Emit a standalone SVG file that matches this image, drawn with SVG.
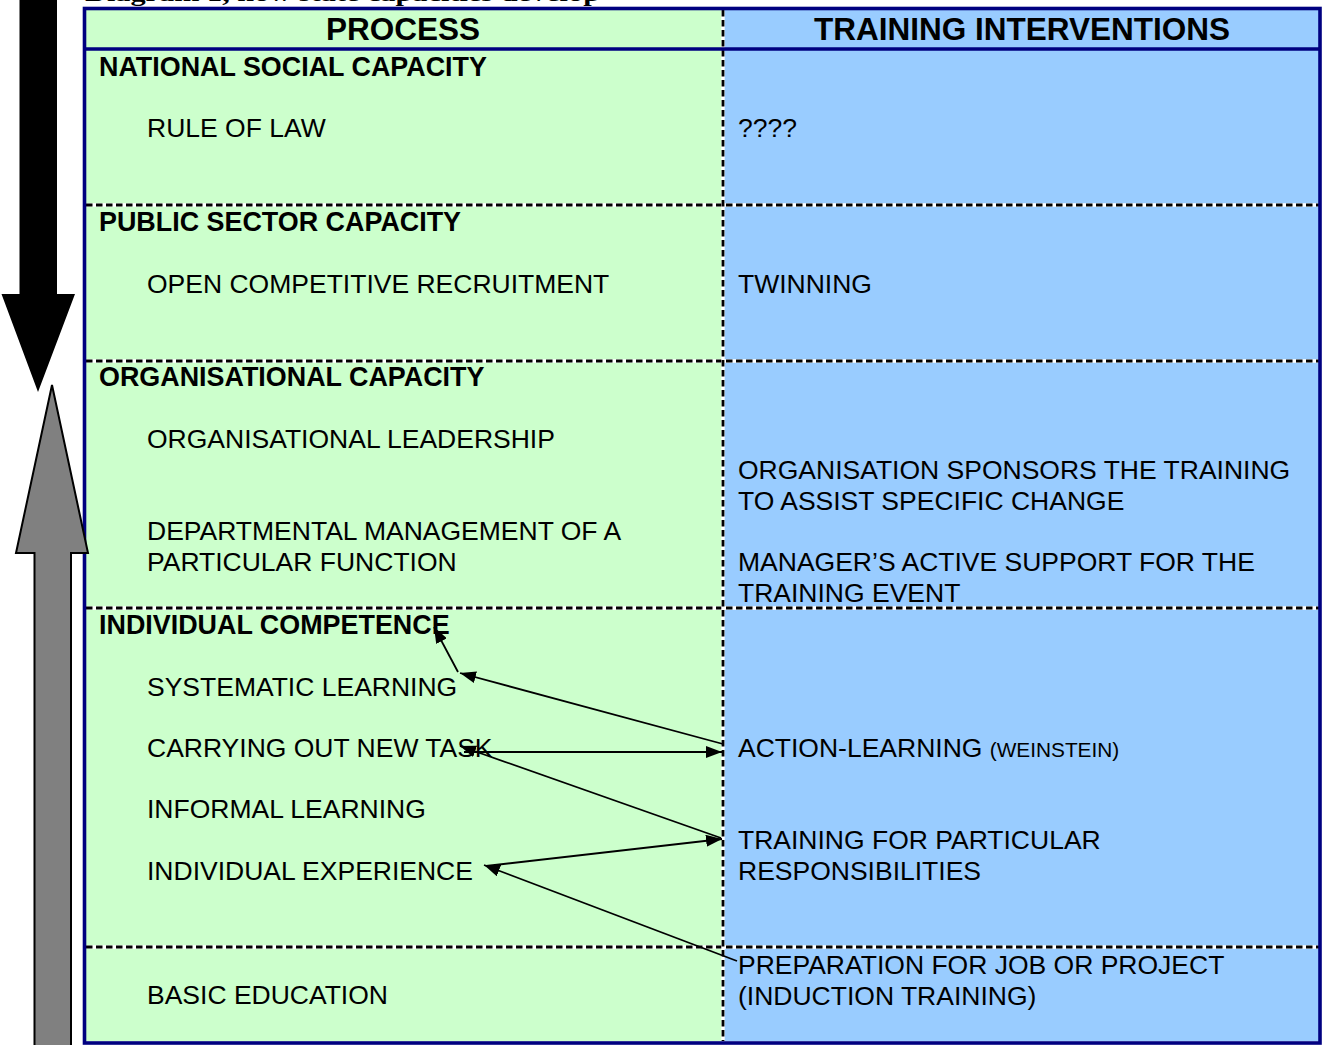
<svg xmlns="http://www.w3.org/2000/svg" width="1323" height="1045" viewBox="0 0 1323 1045">
  <style>
    .t { font-family: "Liberation Sans", Arial, sans-serif; font-size: 26.5px; fill: #000; }
    .b { font-weight: bold; font-size: 26.9px; }
    .hd { font-family: "Liberation Sans", Arial, sans-serif; font-size: 31.5px; font-weight: bold; text-anchor: middle; }
    .cap { font-family: "Liberation Serif", "Times New Roman", serif; font-size: 24px; font-weight: bold; }
    .divw { stroke: #fff; stroke-width: 3.4; fill: none; }
    .divb { stroke: #000; stroke-width: 2.8; stroke-dasharray: 6.5 3.5; fill: none; }
    .conn { stroke: #000; stroke-width: 1.8; fill: none; marker-end: url(#head); }
  </style>
  <defs>
    <marker id="head" viewBox="0 0 16 12" refX="16" refY="6" markerWidth="16" markerHeight="12" markerUnits="userSpaceOnUse" orient="auto">
      <path d="M0,0 L16,6 L0,12 z" fill="#000"/>
    </marker>
  </defs>

  <rect width="1323" height="1045" fill="#fff"/>

  <!-- caption above the table (runs off the top edge) -->
  <text class="cap" x="85" y="0.5" textLength="515" lengthAdjust="spacingAndGlyphs">Diagram 1, how state capacities develop</text>

  <!-- table cells -->
  <g id="table">
    <rect x="86" y="10" width="637" height="1031" fill="#CCFFCC"/>
    <rect x="723" y="10" width="596" height="1031" fill="#99CCFF"/>

    <!-- dashed row dividers -->
    <g id="row-dividers">
      <path class="divw" d="M86,205 H1319 M86,361 H1319 M86,608 H1319 M86,947 H1319"/>
      <path class="divb" d="M86,205 H1319 M86,361 H1319 M86,608 H1319 M86,947 H1319"/>
    </g>
    <!-- dashed column divider -->
    <g id="column-divider">
      <path class="divw" d="M723,10 V1041"/>
      <path class="divb" d="M723,10 V1041"/>
    </g>

    <!-- header underline and outer frame -->
    <path d="M84,49 H1320" stroke="#000080" stroke-width="3.5"/>
    <rect x="84.5" y="8.5" width="1235.5" height="1034.5" fill="none" stroke="#000080" stroke-width="3.6"/>
  </g>

  <!-- column headings -->
  <g id="headings">
    <text class="hd" x="403" y="40">PROCESS</text>
    <text class="hd" x="1022" y="40">TRAINING INTERVENTIONS</text>
  </g>

  <!-- process column -->
  <g id="node-national">
    <text class="t b" x="99" y="76">NATIONAL SOCIAL CAPACITY</text>
    <text class="t" x="147" y="137">RULE OF LAW</text>
  </g>
  <g id="node-public">
    <text class="t b" x="99" y="231">PUBLIC SECTOR CAPACITY</text>
    <text class="t" x="147" y="293">OPEN COMPETITIVE RECRUITMENT</text>
  </g>
  <g id="node-organisational">
    <text class="t b" x="99" y="386">ORGANISATIONAL CAPACITY</text>
    <text class="t" x="147" y="448">ORGANISATIONAL LEADERSHIP</text>
    <text class="t" x="147" y="540">DEPARTMENTAL MANAGEMENT OF A</text>
    <text class="t" x="147" y="571">PARTICULAR FUNCTION</text>
  </g>
  <g id="node-individual">
    <text class="t b" x="99" y="634">INDIVIDUAL COMPETENCE</text>
    <text class="t" x="147" y="696">SYSTEMATIC LEARNING</text>
    <text class="t" x="147" y="757">CARRYING OUT NEW TASK</text>
    <text class="t" x="147" y="818">INFORMAL LEARNING</text>
    <text class="t" x="147" y="880">INDIVIDUAL EXPERIENCE</text>
  </g>
  <g id="node-basic">
    <text class="t" x="147" y="1004">BASIC EDUCATION</text>
  </g>

  <!-- training interventions column -->
  <g id="node-unknown">
    <text class="t" x="738" y="137">????</text>
  </g>
  <g id="node-twinning">
    <text class="t" x="738" y="293">TWINNING</text>
  </g>
  <g id="node-sponsors">
    <text class="t" x="738" y="479">ORGANISATION SPONSORS THE TRAINING</text>
    <text class="t" x="738" y="510">TO ASSIST SPECIFIC CHANGE</text>
  </g>
  <g id="node-manager">
    <text class="t" x="738" y="571">MANAGER’S ACTIVE SUPPORT FOR THE</text>
    <text class="t" x="738" y="602">TRAINING EVENT</text>
  </g>
  <g id="node-action">
    <text class="t" x="738" y="757">ACTION-LEARNING <tspan font-size="20.8px">(WEINSTEIN)</tspan></text>
  </g>
  <g id="node-responsibilities">
    <text class="t" x="738" y="849">TRAINING FOR PARTICULAR</text>
    <text class="t" x="738" y="880">RESPONSIBILITIES</text>
  </g>
  <g id="node-preparation">
    <text class="t" x="738" y="974">PREPARATION FOR JOB OR PROJECT</text>
    <text class="t" x="738" y="1005">(INDUCTION TRAINING)</text>
  </g>

  <!-- connectors -->
  <g id="connectors">
    <line class="conn" x1="723" y1="744" x2="460" y2="673"/>
    <line class="conn" x1="458" y1="672" x2="434" y2="627"/>
    <line class="conn" x1="464" y1="752" x2="722" y2="752"/>
    <line class="conn" x1="721" y1="838" x2="460" y2="746"/>
    <line class="conn" x1="486" y1="866" x2="722" y2="839"/>
    <line class="conn" x1="737" y1="961" x2="484" y2="865"/>
  </g>

  <!-- large side arrows: downward (black) and upward (grey) -->
  <g id="arrow-down">
    <path d="M19.5,0 H57 V294 H75 L38,392 L1.5,294 H19.5 Z" fill="#000"/>
  </g>
  <g id="arrow-up">
    <path d="M34.5,1046 V553 H16 L52,385 L88,553 H71 V1046" fill="#808080" stroke="#000" stroke-width="2"/>
  </g>
</svg>
